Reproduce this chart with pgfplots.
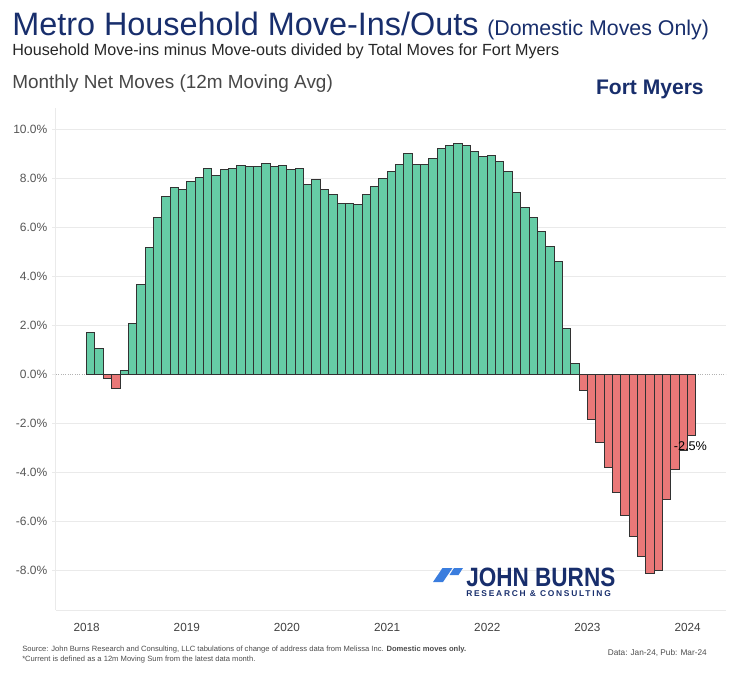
\documentclass[border=0pt]{standalone}
\usepackage{fontspec}
\setmainfont{Liberation Sans}
\newfontfamily\logosmall[LetterSpace=21]{Liberation Sans}
\usepackage{graphicx}
\usepackage{pgfplots}
\pgfplotsset{compat=1.18}

\definecolor{navy}{RGB}{24,46,108}
\definecolor{barG}{RGB}{102,204,166}
\definecolor{barR}{RGB}{234,120,120}
\definecolor{edge}{RGB}{50,50,50}
\definecolor{gridc}{RGB}{234,234,234}
\definecolor{tickc}{RGB}{85,85,85}
\definecolor{logoblue}{RGB}{58,125,222}

\newcommand{\fs}[1]{\fontsize{#1pt}{#1pt}\selectfont}

\begin{document}
\begin{tikzpicture}[x=0.75pt,y=0.75pt]

\begin{axis}[
    scale only axis,
    width=502.5pt, height=376.5pt,
    xmin=-4.17, xmax=76.1,
    ymin=-9.63, ymax=10.86,
    axis x line*=bottom, axis y line*=left,
    axis line style={draw=gridc, line width=0.75pt},
    xtick={-0.5,11.5,23.5,35.5,47.5,59.5,71.5},
    xticklabels={2018,2019,2020,2021,2022,2023,2024},
    xtick style={draw=none},
    ytick={-8,-6,-4,-2,2,4,6,8,10},
    extra y ticks={0},
    extra y tick style={grid=none},
    ymajorgrids,
    major grid style={gridc, line width=0.75pt},
    major tick length=3pt, tick align=outside,
    y tick style={gridc, line width=0.75pt},
    /pgf/number format/assume math mode=true,
    yticklabel={\pgfmathprintnumber[fixed,fixed zerofill,precision=1]{\tick}\%},
    y tick label style={font=\fs{9}, text=tickc},
    x tick label style={font=\fs{8.8}, text=black!75, yshift=-3.5pt},
]
\coordinate (O) at (axis cs:-4.17,-9.63);

\draw[densely dotted, black!30, line width=0.75pt] (axis cs:-4.17,0) -- (axis cs:76.1,0);

% net moves > 0
\addplot[ybar, bar width=1, bar shift=0pt, fill=barG, draw=edge, line width=0.75pt]
coordinates {
    (0,1.71) (1,1.06) (4,0.16) (5,2.08) (6,3.67) (7,5.16) (8,6.38) (9,7.24) (10,7.62) (11,7.54)
    (12,7.88) (13,8.04) (14,8.39) (15,8.12) (16,8.37) (17,8.41) (18,8.52) (19,8.48) (20,8.48) (21,8.61) (22,8.49) (23,8.52)
    (24,8.37) (25,8.41) (26,7.74) (27,7.95) (28,7.54) (29,7.32) (30,6.98) (31,6.98) (32,6.94) (33,7.32) (34,7.66) (35,7.99)
    (36,8.27) (37,8.57) (38,9.02) (39,8.57) (40,8.57) (41,8.80) (42,9.21) (43,9.31) (44,9.43) (45,9.31) (46,9.10) (47,8.90)
    (48,8.94) (49,8.68) (50,8.27) (51,7.40) (52,6.78) (53,6.38) (54,5.80) (55,5.22) (56,4.61) (57,1.88) (58,0.44)
};
% net moves < 0
\addplot[ybar, bar width=1, bar shift=0pt, fill=barR, draw=edge, line width=0.75pt]
coordinates {
    (2,-0.20) (3,-0.58)
    (59,-0.68)
    (60,-1.84) (61,-2.79) (62,-3.80) (63,-4.84) (64,-5.76) (65,-6.65) (66,-7.44) (67,-8.14) (68,-8.00) (69,-5.14) (70,-3.89) (71,-3.13)
    (72,-2.50)
};

\node[anchor=base, inner sep=0, font=\fs{9.5}, yshift=-11.5pt, xshift=-1pt] at (axis cs:72,-2.5) {-2.5\%};
\end{axis}

% everything else in reference pixels, y from the bottom; plot corner is at (56,62)
\begin{scope}[shift={(O)}, shift={(-56,-62)}]
\pgfresetboundingbox
\useasboundingbox (0,0) rectangle (743,672);

% titles
\node[anchor=base west, inner sep=0, text=navy] at (12,636) {\fs{24.3}Metro Household Move-Ins/Outs};
\node[anchor=base west, inner sep=0, text=navy] at (487,636) {\fs{16}(Domestic Moves Only)};
\node[anchor=base west, inner sep=0, text=black!85] at (12,616) {\fs{12.1}Household Move-ins minus Move-outs divided by Total Moves for Fort Myers};
\node[anchor=base west, inner sep=0, text=black!72] at (12,583) {\fs{14.2}Monthly Net Moves (12m Moving Avg)};
\node[anchor=base east, inner sep=0, text=navy] at (704,577) {\fs{15.8}\bfseries Fort Myers};

% logo
\fill[logoblue] (433,90) -- (443,90) -- (452.5,104) -- (442.5,104) -- cycle;
\fill[logoblue] (449.5,97) -- (454,104) -- (463,104) -- (458.5,97) -- cycle;
\node[anchor=base west, inner sep=0, text=navy] at (466,86) {\scalebox{0.85}[1]{\fs{19.9}\bfseries JOHN BURNS}};
\node[anchor=base west, inner sep=0, text=navy] at (466,76) {\logosmall\fs{6.3}\bfseries RESEARCH \& CONSULTING};

% footnotes
\node[anchor=west, inner sep=0, text=black!70] at (22,22) {\fs{5.7}Source: John Burns Research and Consulting, LLC tabulations of change of address data from Melissa Inc. \textbf{Domestic moves only.}};
\node[anchor=west, inner sep=0, text=black!70] at (22,12) {\fs{5.7}*Current is defined as a 12m Moving Sum from the latest data month.};
\node[anchor=east, inner sep=0, text=black!70] at (707,19) {\fs{6.2}Data: Jan-24, Pub: Mar-24};
\end{scope}
\end{tikzpicture}
\end{document}
